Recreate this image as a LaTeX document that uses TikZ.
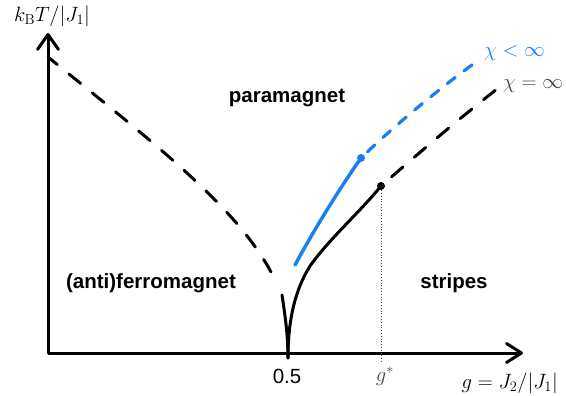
\documentclass[tikz,border=0pt]{standalone}
\usepackage[no-math]{fontspec}
\newfontfamily\hv{Liberation Sans}
\usetikzlibrary{arrows.meta}
\definecolor{chiblue}{RGB}{22,128,240}
\definecolor{dgray}{RGB}{70,70,70}
\begin{document}
\begin{tikzpicture}[x=1pt,y=-1pt,
  axis/.style={line width=3pt, line join=round,
    {Straight Barb[length=15pt,width=21pt,round]}-{Straight Barb[length=15pt,width=19pt,round]}},
  curve/.style={line width=3pt, line cap=round},
  bdash/.style={curve, dash pattern=on 15pt off 15pt},
  cdash/.style={line width=3.2pt, line cap=round, chiblue, dash pattern=on 10pt off 11pt},
  region/.style={font=\hv\bfseries\fontsize{20.5}{24}\selectfont, inner sep=0pt},
  mlabel/.style={font=\fontsize{20}{24}\selectfont, inner sep=0pt},
  pt/.style={circle, fill, inner sep=0pt, minimum size=8pt}]
\useasboundingbox (0,0) rectangle (566,396);
% axes
\coordinate (ytop) at (48,33);
\coordinate (orig) at (48,353);
\coordinate (xend) at (523,353);
\draw[axis] (ytop) -- (orig) -- (xend);
% left dashed boundary
\coordinate (l0) at (48,57);
\coordinate (l1) at (271,272);
\draw[bdash, dash phase=3pt] (l0) .. controls (150,140) and (235,205) .. (l1);
% cusp
\coordinate (c0) at (282,295);
\coordinate (cb0) at (288,358);
\draw[curve] (c0) .. controls (285,315) and (288,335) .. (cb0);
\node[pt] (gs) at (381,186) {};
\coordinate (m1) at (310,266);
\draw[curve] (cb0) .. controls (288,320) and (295,290) .. (m1)
  .. controls (330,238) and (360,212) .. (gs.center);
% black dashed continuation
\coordinate (k1) at (497,89);
\draw[bdash, dash phase=-14pt] (gs.center) .. controls (420,152) and (460,118) .. (k1);
% blue curve
\node[pt, chiblue] (cb) at (361,158) {};
\coordinate (b0) at (295,265);
\coordinate (b1) at (476,62);
\draw[line width=3.4pt, line cap=round, chiblue] (b0) .. controls (315,228) and (340,188) .. (cb.center);
\draw[cdash, dash phase=-9pt] (cb.center) .. controls (395,125) and (440,88) .. (b1);
% dotted
\coordinate (gsb) at (381,363);
\draw[dgray, line width=0.8pt, dotted] (gs) -- (gsb);
% labels
\node[mlabel] (ylab) at (52,16) {$k_{\mathrm{B}}T/|J_1|$};
\node[mlabel, anchor=east] (xlab) at (558,383) {$g=J_2/|J_1|$};
\node[font=\hv\fontsize{20.5}{24}\selectfont, inner sep=0pt] (half) at (287,376) {0.5};
\node[mlabel, dgray] (gstar) at (385,376) {$g^*$};
\node[mlabel, chiblue, anchor=west] (chib) at (484,53) {$\chi<\infty$};
\node[mlabel, dgray, anchor=west] (chik) at (503,86) {$\chi=\infty$};
\node[region] (para) at (287,98) {paramagnet};
\node[region] (afm) at (151,283) {(anti)ferromagnet};
\node[region] (str) at (454,283) {stripes};
\end{tikzpicture}
\end{document}
